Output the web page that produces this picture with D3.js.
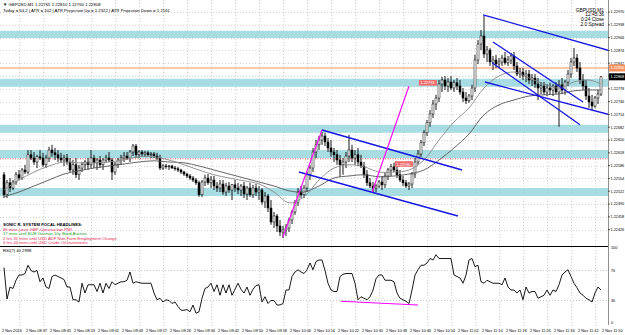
<!DOCTYPE html>
<html><head><meta charset="utf-8">
<script src="https://cdn.jsdelivr.net/npm/d3@7"></script>
<style>html,body{margin:0;padding:0;background:#fff;}svg{display:block;font-family:"Liberation Sans",Arial,sans-serif;}</style>
</head><body><svg id="c" width="625" height="335"></svg>
<script>
const opens=[1.22563,1.22513,1.22543,1.2253,1.22545,1.22563,1.22555,1.22575,1.2257,1.22613,
1.22605,1.22595,1.22608,1.22605,1.22588,1.22605,1.22625,1.22618,1.22613,1.22605,
1.226,1.22605,1.22595,1.22575,1.22588,1.22563,1.2258,1.22588,1.22595,1.22588,
1.22605,1.22593,1.226,1.22588,1.226,1.22605,1.226,1.2257,1.22588,1.226,
1.22605,1.2261,1.22605,1.2262,1.22635,1.22613,1.2262,1.22615,1.22618,1.22613,
1.22615,1.2261,1.22605,1.2258,1.22585,1.22583,1.22585,1.2258,1.22578,1.22575,
1.2257,1.22565,1.2256,1.22555,1.2255,1.22543,1.22513,1.22545,1.22555,1.22543,
1.2255,1.22535,1.2253,1.2254,1.2252,1.22535,1.22525,1.22538,1.2253,1.22525,
1.22535,1.22515,1.2253,1.22513,1.2253,1.2252,1.22525,1.22495,1.2251,1.2248,
1.22445,1.2246,1.22435,1.2242,1.22425,1.2243,1.2245,1.2247,1.22493,1.2252,
1.22513,1.2253,1.22563,1.2258,1.2262,1.22638,1.2265,1.2266,1.22645,1.2263,
1.2262,1.22613,1.226,1.22588,1.22595,1.2261,1.22625,1.22605,1.22613,1.22595,
1.22585,1.22563,1.22543,1.22535,1.2253,1.22535,1.22545,1.22538,1.2256,1.22575,
1.22583,1.22575,1.22563,1.2255,1.22543,1.22535,1.2254,1.22565,1.22595,1.22615,
1.22643,1.22668,1.22693,1.22715,1.2274,1.22755,1.2279,1.228,1.22785,1.22795,
1.2278,1.22793,1.22785,1.2277,1.22755,1.22748,1.2276,1.2278,1.2285,1.2289,
1.2291,1.22865,1.22875,1.22845,1.2285,1.2284,1.22845,1.22855,1.22843,1.2285,
1.2286,1.22835,1.22815,1.2282,1.2281,1.22815,1.228,1.22805,1.2279,1.2278,
1.22785,1.2277,1.2278,1.22775,1.22785,1.2277,1.22788,1.22775,1.22795,1.22815,
1.22845,1.22855,1.2283,1.228,1.22785,1.2276,1.22745,1.22735,1.22755,1.22765];
const highs=[1.2257,1.2255,1.22555,1.2255,1.2257,1.22575,1.2258,1.22588,1.22625,1.22625,
1.2262,1.22613,1.22625,1.22618,1.22613,1.22633,1.22638,1.2263,1.22625,1.22618,
1.22613,1.22615,1.22605,1.226,1.22605,1.22588,1.22595,1.226,1.22605,1.22625,
1.22613,1.22605,1.2261,1.22605,1.22613,1.2262,1.22605,1.22595,1.22605,1.22613,
1.2262,1.2262,1.22625,1.2264,1.2264,1.22625,1.22625,1.22623,1.22623,1.2262,
1.2262,1.22618,1.22613,1.2259,1.2259,1.22588,1.22588,1.22585,1.22583,1.22578,
1.22573,1.22568,1.22565,1.2256,1.22555,1.22548,1.2255,1.22563,1.22565,1.2256,
1.2256,1.22545,1.2255,1.2255,1.22543,1.22545,1.2254,1.2255,1.22543,1.2254,
1.22545,1.22535,1.22543,1.22538,1.2254,1.22535,1.2253,1.2252,1.22515,1.225,
1.2247,1.22465,1.2245,1.22435,1.2244,1.22455,1.22475,1.225,1.2253,1.22535,
1.22538,1.2257,1.22588,1.2263,1.2265,1.2266,1.2267,1.22668,1.22655,1.2265,
1.2263,1.22625,1.22613,1.22605,1.2262,1.22663,1.22638,1.22625,1.2263,1.22613,
1.22595,1.22575,1.22555,1.22545,1.2254,1.2255,1.2256,1.2257,1.2258,1.2259,
1.22593,1.22585,1.22575,1.2256,1.2255,1.22545,1.2257,1.22605,1.22625,1.2265,
1.22675,1.227,1.22725,1.2275,1.22763,1.228,1.22808,1.2281,1.22805,1.2281,
1.228,1.22805,1.228,1.2278,1.2277,1.22765,1.22788,1.22863,1.229,1.22925,
1.2296,1.22885,1.2288,1.2286,1.22863,1.22855,1.22863,1.2287,1.2286,1.22868,
1.2287,1.22845,1.2283,1.2283,1.22825,1.22825,1.22815,1.22815,1.22805,1.22795,
1.22795,1.2279,1.22793,1.2279,1.22795,1.228,1.22805,1.228,1.22825,1.22855,
1.2288,1.22865,1.22845,1.22815,1.228,1.2278,1.22763,1.2276,1.22775,1.2281];
const lows=[1.22505,1.22505,1.2252,1.22525,1.22538,1.2255,1.2255,1.22565,1.22565,1.226,
1.22588,1.2258,1.226,1.22583,1.2258,1.22595,1.22608,1.226,1.22595,1.22593,
1.22585,1.22588,1.2257,1.22563,1.22555,1.2255,1.2257,1.22575,1.22575,1.2258,
1.2258,1.22575,1.2258,1.22575,1.22593,1.22595,1.2255,1.22563,1.2258,1.22588,
1.22595,1.226,1.22595,1.2261,1.22605,1.22605,1.2261,1.22608,1.2261,1.22605,
1.22605,1.226,1.22575,1.22575,1.22578,1.22575,1.22578,1.22573,1.2257,1.22565,
1.2256,1.22555,1.2255,1.22545,1.22538,1.22508,1.22508,1.22535,1.22538,1.2253,
1.22525,1.2252,1.2252,1.22513,1.2251,1.22518,1.225,1.2252,1.22515,1.2251,
1.22505,1.225,1.22508,1.22505,1.2251,1.225,1.22488,1.2248,1.2247,1.22438,
1.2243,1.2242,1.2241,1.22405,1.2241,1.2242,1.2244,1.22463,1.22485,1.22505,
1.22505,1.2252,1.2255,1.2257,1.22605,1.22625,1.22638,1.22635,1.2262,1.22608,
1.22595,1.22588,1.22558,1.22563,1.2258,1.22595,1.22595,1.22588,1.22585,1.2258,
1.22555,1.22535,1.2253,1.2252,1.2252,1.2253,1.22525,1.2253,1.2255,1.2256,
1.2257,1.22555,1.22545,1.22535,1.2253,1.22525,1.2253,1.22555,1.22588,1.22608,
1.22635,1.2266,1.22683,1.22705,1.22725,1.22745,1.2277,1.22775,1.2277,1.22775,
1.2277,1.22775,1.22763,1.22745,1.2274,1.22743,1.2275,1.2277,1.2284,1.22875,
1.22855,1.22845,1.22835,1.22825,1.2283,1.2283,1.22835,1.22838,1.22835,1.2284,
1.22825,1.2281,1.22805,1.228,1.22795,1.2279,1.22785,1.2278,1.2275,1.22765,
1.22763,1.2276,1.22763,1.2276,1.22765,1.22683,1.22765,1.22763,1.22785,1.22805,
1.22835,1.2282,1.2279,1.22775,1.2275,1.2273,1.22725,1.2273,1.2274,1.2276];
const closes=[1.22513,1.22543,1.2253,1.22545,1.22563,1.22555,1.22575,1.2257,1.22613,1.22605,
1.22595,1.22608,1.22605,1.22588,1.22605,1.22625,1.22618,1.22613,1.22605,1.226,
1.22605,1.22595,1.22575,1.22588,1.22563,1.2258,1.22588,1.22595,1.22588,1.22605,
1.22593,1.226,1.22588,1.226,1.22605,1.226,1.2257,1.22588,1.226,1.22605,
1.2261,1.22605,1.2262,1.22635,1.22613,1.2262,1.22615,1.22618,1.22613,1.22615,
1.2261,1.22605,1.2258,1.22585,1.22583,1.22585,1.2258,1.22578,1.22575,1.2257,
1.22565,1.2256,1.22555,1.2255,1.22543,1.22513,1.22545,1.22555,1.22543,1.2255,
1.22535,1.2253,1.2254,1.2252,1.22535,1.22525,1.22538,1.2253,1.22525,1.22535,
1.22515,1.2253,1.22513,1.2253,1.2252,1.22525,1.22495,1.2251,1.2248,1.22445,
1.2246,1.22435,1.2242,1.22425,1.2243,1.2245,1.2247,1.22493,1.2252,1.22513,
1.2253,1.22563,1.2258,1.2262,1.22638,1.2265,1.2266,1.22645,1.2263,1.2262,
1.22613,1.226,1.22588,1.22595,1.2261,1.22625,1.22605,1.22613,1.22595,1.22585,
1.22563,1.22543,1.22535,1.2253,1.22535,1.22545,1.22538,1.2256,1.22575,1.22583,
1.22575,1.22563,1.2255,1.22543,1.22535,1.2254,1.22565,1.22595,1.22615,1.22643,
1.22668,1.22693,1.22715,1.2274,1.22755,1.2279,1.228,1.22785,1.22795,1.2278,
1.22793,1.22785,1.2277,1.22755,1.22748,1.2276,1.2278,1.2285,1.2289,1.2291,
1.22865,1.22875,1.22845,1.2285,1.2284,1.22845,1.22855,1.22843,1.2285,1.2286,
1.22835,1.22815,1.2282,1.2281,1.22815,1.228,1.22805,1.2279,1.2278,1.22785,
1.2277,1.2278,1.22775,1.22785,1.2277,1.22788,1.22775,1.22795,1.22815,1.22845,
1.22855,1.2283,1.228,1.22785,1.2276,1.22745,1.22735,1.22755,1.22765,1.22808];
const maBars=[0,5,10,15,20,25,30,35,40,45,50,55,60,65,70,75,80,85,90,95,100,105,110,115,120,125,130,135,140,145,150,155,160,165,170,175,180,185,190,195,199];
const maFast=[1.22525,1.2255,1.2257,1.22585,1.22595,1.22593,1.22593,1.22595,1.226,1.22608,1.22608,1.226,1.22588,1.22575,1.22563,1.22555,1.22548,1.2254,1.2252,1.22493,1.22508,1.2255,1.2258,1.22588,1.22583,1.2257,1.2257,1.22575,1.226,1.2265,1.22695,1.2273,1.2278,1.2281,1.2282,1.22805,1.2279,1.2278,1.22795,1.228,1.2279];
const maSlow=[1.22508,1.2252,1.22535,1.2255,1.22565,1.22573,1.2258,1.22585,1.2259,1.22595,1.22598,1.22595,1.22593,1.22585,1.22575,1.22565,1.22555,1.22545,1.22535,1.22523,1.2252,1.22535,1.22555,1.2256,1.22563,1.22558,1.2256,1.22565,1.22575,1.226,1.2263,1.22665,1.22713,1.22738,1.2275,1.2276,1.22763,1.22765,1.22773,1.22775,1.22775];
const rsi=[74,32,48,46,57,64,64,66,77,70,68,70,55,60,48,46,62,64,62,60,
58,48,48,31,31,28,53,40,51,51,51,42,53,40,53,46,55,51,53,55,
55,57,68,53,55,54,53,53,53,53,40,31,33,28,31,30,26,28,22,17,
17,18,15,24,13,15,33,46,48,53,42,51,37,51,40,51,37,45,53,45,
40,48,37,45,50,51,28,35,26,30,30,24,24,26,44,44,62,68,71,68,
66,71,80,71,82,84,84,70,53,44,42,42,62,65,66,66,66,53,31,35,
33,31,35,44,59,64,64,57,57,57,55,40,33,31,29,26,44,64,71,77,
77,80,86,84,91,86,86,86,86,86,64,62,60,53,64,84,86,75,77,55,
53,57,55,53,53,53,51,60,48,44,44,40,44,31,48,40,42,42,33,35,
37,44,37,44,42,51,64,68,71,62,53,47,40,37,33,31,28,40,48,44];
const priceTicks=[1.2297,1.22938,1.22906,1.22874,1.22842,1.2281,1.22778,1.22746,1.22714,1.22682,1.2265,1.22618,1.22586,1.22554,1.22522,1.2249,1.22458,1.22426];
const timeLabels=["2 Nov 2016","2 Nov 08:37","2 Nov 08:45","2 Nov 08:53","2 Nov 09:01","2 Nov 09:09","2 Nov 09:17","2 Nov 09:26","2 Nov 09:34","2 Nov 09:42","2 Nov 09:50","2 Nov 09:58","2 Nov 10:06","2 Nov 10:14","2 Nov 10:22","2 Nov 10:30","2 Nov 10:38","2 Nov 10:46","2 Nov 10:54","2 Nov 11:02","2 Nov 11:10","2 Nov 11:18","2 Nov 11:26","2 Nov 11:34","2 Nov 11:42","2 Nov 11:50"];
const bandTop=[1.22923,1.22803,1.22688,1.22625,1.2253];
const bandBottom=[1.22905,1.22783,1.22668,1.22605,1.2251];
const blueLines=[[106,1.22675,152.7,1.22575],[98.3,1.2257,151.3,1.2246],[159.7,1.22963,202,1.22873],[163,1.22895,193,1.22745],[162.7,1.22843,192,1.22688],[160.3,1.22795,202,1.22713]];
const magentaLines=[[93,1.22408,106,1.22675],[122.7,1.2252,135,1.22785]];
const rsiMagenta=[112.3,29,138,24];
const orangeLevel=1.2283, redDotLevel=1.22603;
const priceTags=[[138.3,1.22793,"1.22793"],[130.3,1.2259,"1.22590"]];
const rsiLevels=[70,30], rsiAxis=[100,70,30,0];
const headlines=[["86 mins since GBP Construction PMI","#e8264f"],["17 mins until EUR German 10y Bond Auction","#1f9e1f"],["2 hrs 31 mins until USD ADP Non-Farm Employment Change","#e8264f"],["4 hrs 44 mins until USD Crude Oil Inventories","#e8264f"]];
const infoLines=["GBPUSD,M1","12:45:36","0:24 Close","2.0 Spread"];

const svg=d3.select('#c');
const R=608, MB=246;
const x=d3.scaleLinear().domain([0,199]).range([4,601]);
const y=d3.scaleLinear().domain([1.23,1.22385]).range([0,246]);
const yr=d3.scaleLinear().domain([0,100]).range([323,248]);
const fmt=d3.format('.5f');
const defs=svg.append('defs');
defs.append('clipPath').attr('id','mc').append('rect').attr('x',0).attr('y',0).attr('width',R).attr('height',MB);
defs.append('clipPath').attr('id','rc').append('rect').attr('x',0).attr('y',MB+1).attr('width',R).attr('height',80);
const gm=svg.append('g').attr('clip-path','url(#mc)');
const gr=svg.append('g').attr('clip-path','url(#rc)');
const vg=d3.range(timeLabels.length-1);
[[gm,0,MB],[gr,MB+1,326]].forEach(([g,a,b])=>{
  g.selectAll('line.vg').data(vg).join('line').attr('x1',k=>x(8*k)+15.5).attr('x2',k=>x(8*k)+15.5).attr('y1',a).attr('y2',b).attr('stroke','#c8c8c8').attr('stroke-width',0.8).attr('stroke-dasharray','1,2');
});
gm.selectAll('line.hg').data(priceTicks).join('line').attr('x1',0).attr('x2',R).attr('y1',d=>Math.round(y(d))+0.5).attr('y2',d=>Math.round(y(d))+0.5).attr('stroke','#c8c8c8').attr('stroke-width',0.8).attr('stroke-dasharray','1,2');
gm.selectAll('rect.band').data(bandTop).join('rect').attr('x',0).attr('width',R).attr('y',d=>y(d)).attr('height',(d,i)=>y(bandBottom[i])-y(d)).attr('fill','#a8dce3');
gm.append('line').attr('x1',0).attr('x2',R).attr('y1',y(orangeLevel)).attr('y2',y(orangeLevel)).attr('stroke','#f6935e').attr('stroke-width',1);
gm.append('line').attr('x1',0).attr('x2',R).attr('y1',y(redDotLevel)).attr('y2',y(redDotLevel)).attr('stroke','#e02020').attr('stroke-width',0.8).attr('stroke-dasharray','1,1.5');
const idx=d3.range(closes.length);
gm.selectAll('line.wick').data(idx).join('line').attr('x1',i=>x(i)).attr('x2',i=>x(i)).attr('y1',i=>y(highs[i])).attr('y2',i=>y(lows[i])).attr('stroke','#000').attr('stroke-width',0.9);
gm.selectAll('rect.body').data(idx).join('rect')
 .attr('x',i=>x(i)-1).attr('width',2)
 .attr('y',i=>y(Math.max(opens[i],closes[i])))
 .attr('height',i=>Math.max(0.8,Math.abs(y(opens[i])-y(closes[i]))))
 .attr('fill',i=>closes[i]>opens[i]?'#fff':'#000')
 .attr('stroke','#000').attr('stroke-width',0.5);
const ml=d3.line().x((d,i)=>x(maBars[i])).y(d=>y(d)).curve(d3.curveCatmullRom);
gm.append('path').attr('d',ml(maSlow)).attr('fill','none').attr('stroke','#555').attr('stroke-width',0.9);
gm.append('path').attr('d',ml(maFast)).attr('fill','none').attr('stroke','#8a8a8a').attr('stroke-width',0.9);
gm.selectAll('line.bl').data(blueLines).join('line').attr('x1',d=>x(d[0])).attr('y1',d=>y(d[1])).attr('x2',d=>x(d[2])).attr('y2',d=>y(d[3])).attr('stroke','#1414e6').attr('stroke-width',1.3);
gm.selectAll('line.mg').data(magentaLines).join('line').attr('x1',d=>x(d[0])).attr('y1',d=>y(d[1])).attr('x2',d=>x(d[2])).attr('y2',d=>y(d[3])).attr('stroke','#ff00ff').attr('stroke-width',1.1);
priceTags.forEach(t=>{
  const g=gm.append('g');
  g.append('rect').attr('x',x(t[0])).attr('y',y(t[1])-2.8).attr('width',18).attr('height',5.6).attr('fill','#f26b6b');
  g.append('text').attr('x',x(t[0])+1.5).attr('y',y(t[1])+1.5).attr('font-size',3.9).attr('fill','#fff').text(t[2]);
});
svg.append('text').attr('x',3).attr('y',6).attr('font-size',4.3).attr('fill','#000').text('▼ GBPUSD,M1  1.22765 1.22810 1.22760 1.22808');
svg.append('text').attr('x',3).attr('y',11.5).attr('font-size',4.3).attr('fill','#000').text('Today = 64.2  |  ATR = 102  |  ATR Projection Up = 1.2322  |  ATR Projection Down = 1.2161');
infoLines.forEach((t,i)=>svg.append('text').attr('x',604).attr('y',11.5+i*4.9).attr('font-size',4.8).attr('text-anchor','end').attr('fill','#000').text(t));
svg.append('text').attr('x',3).attr('y',226).attr('font-size',4.2).attr('font-weight','bold').attr('fill','#000').text('SONIC R. SYSTEM  FOCAL HEADLINES:');
headlines.forEach((h,i)=>svg.append('text').attr('x',3).attr('y',230.6+i*4.5).attr('font-size',4.2).attr('fill',h[1]).text(h[0]));
svg.append('line').attr('x1',0).attr('x2',R).attr('y1',246.5).attr('y2',246.5).attr('stroke','#000').attr('stroke-width',1);
svg.append('line').attr('x1',R+0.5).attr('x2',R+0.5).attr('y1',0).attr('y2',325).attr('stroke','#909090').attr('stroke-width',1);
svg.selectAll('line.pt').data(priceTicks).join('line').attr('x1',R).attr('x2',R+2).attr('y1',d=>y(d)).attr('y2',d=>y(d)).attr('stroke','#000').attr('stroke-width',0.6);
svg.selectAll('text.pl').data(priceTicks).join('text').attr('x',R+2.5).attr('y',d=>y(d)+1.4).attr('font-size',3.8).attr('fill','#000').text(d=>fmt(d));
svg.append('rect').attr('x',R+1).attr('y',y(orangeLevel)-3.5).attr('width',16).attr('height',7).attr('fill','#f6935e');
svg.append('text').attr('x',R+2.5).attr('y',y(orangeLevel)+1.4).attr('font-size',3.8).attr('fill','#fff').text(fmt(orangeLevel));
const last=closes[closes.length-1];
svg.append('rect').attr('x',R+1).attr('y',y(last)-3.5).attr('width',16).attr('height',7).attr('fill','#000');
svg.append('text').attr('x',R+2.5).attr('y',y(last)+1.4).attr('font-size',3.8).attr('fill','#fff').text(fmt(last));
gr.selectAll('line.rl').data(rsiLevels).join('line').attr('x1',0).attr('x2',R).attr('y1',d=>yr(d)).attr('y2',d=>yr(d)).attr('stroke','#b8b8b8').attr('stroke-width',0.8).attr('stroke-dasharray','1,2');
gr.append('path').attr('d',d3.line().x((d,i)=>x(i)).y(d=>yr(d))(rsi)).attr('fill','none').attr('stroke','#000').attr('stroke-width',0.9);
gr.append('line').attr('x1',x(rsiMagenta[0])).attr('y1',yr(rsiMagenta[1])).attr('x2',x(rsiMagenta[2])).attr('y2',yr(rsiMagenta[3])).attr('stroke','#ff00ff').attr('stroke-width',1.1);
svg.append('text').attr('x',3).attr('y',251.5).attr('font-size',4.2).attr('fill','#000').text('RSI(7) 40.2998');
svg.selectAll('text.ra').data(rsiAxis).join('text').attr('x',R+3).attr('y',d=>yr(d)+1.4).attr('font-size',3.8).attr('fill','#000').text(d=>d);
svg.selectAll('text.tl').data(timeLabels).join('text').attr('x',(d,k)=>x(8*k)-2).attr('y',332).attr('font-size',3.9).attr('fill','#000').text(d=>d);
</script></body></html>
